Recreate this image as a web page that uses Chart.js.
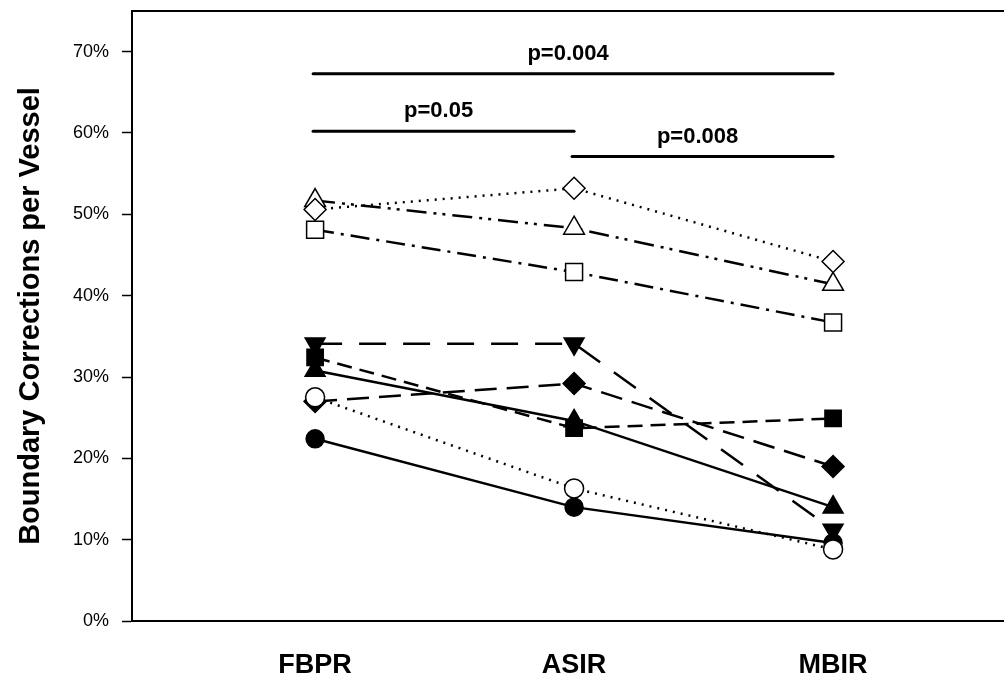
<!DOCTYPE html>
<html lang="en">
<head>
    <meta charset="UTF-8">
    <title>Boundary Corrections per Vessel</title>
    <script src="https://cdn.jsdelivr.net/npm/chart.js"></script>
    <style>
        body {
            margin: 0;
            background: white;
        }
        .chart-wrap {
            width: 1004px;
            height: 675px;
            position: relative;
        }
    </style>
</head>
<body>
    <div class="chart-wrap">
        <canvas id="chart"></canvas>
    </div>

    <script>
        // categories on the x axis
        const methods = ['FBPR', 'ASIR', 'MBIR'];

        // one series per case, values in %
        const openCircle    = [27.5, 16.3, 8.8];
        const filledCircle  = [22.4, 14.0, 9.6];
        const filledTri     = [30.8, 24.6, 14.0];
        const openTri       = [51.7, 48.3, 41.4];
        const filledTriDown = [34.1, 34.1, 11.2];
        const filledSquare  = [32.4, 23.7, 24.9];
        const openSquare    = [48.1, 42.9, 36.7];
        const filledDiamond = [27.0, 29.2, 19.0];
        const openDiamond   = [50.6, 53.2, 44.2];

        const yTicks = [0, 10, 20, 30, 40, 50, 60, 70];

        // significance brackets: from / to category index, height in %, label
        const bracketFrom  = [0, 0, 1];
        const bracketTo    = [2, 1, 2];
        const bracketLevel = [67.3, 60.2, 57.1];
        const bracketText  = ['p=0.004', 'p=0.05', 'p=0.008'];

        const FONT = "'Liberation Sans', Arial, sans-serif";

        function series(label, values, style) {
            return Object.assign({
                label: label,
                data: values.map((v, i) => ({ x: i + 1, y: v })),
                borderColor: '#000',
                borderWidth: 2.5,
                pointBorderColor: '#000',
                pointBorderWidth: 1.5,
                pointBackgroundColor: '#000',
                tension: 0
            }, style);
        }

        // first dataset is drawn on top
        const datasets = [
            series('open circle', openCircle, { borderDash: [2, 6], pointStyle: 'circle', pointRadius: 9.5, pointBackgroundColor: '#fff' }),
            series('open diamond', openDiamond, { borderDash: [2, 6], pointStyle: 'rectRot', pointRadius: 11, pointBackgroundColor: '#fff' }),
            series('open triangle', openTri, { borderDash: [20, 7, 3, 6, 3, 7], pointStyle: 'triangle', pointRadius: 12, pointBackgroundColor: '#fff' }),
            series('open square', openSquare, { borderDash: [19, 7, 3, 7], pointStyle: 'rect', pointRadius: 12, pointBackgroundColor: '#fff' }),
            series('filled circle', filledCircle, { pointStyle: 'circle', pointRadius: 9 }),
            series('filled triangle', filledTri, { pointStyle: 'triangle', pointRadius: 11.5 }),
            series('filled triangle down', filledTriDown, { borderDash: [27, 17], pointStyle: 'triangle', pointRotation: 180, pointRadius: 11.5 }),
            series('filled square', filledSquare, { borderDash: [15, 8], pointStyle: 'rect', pointRadius: 11.5 }),
            series('filled diamond', filledDiamond, { borderDash: [22, 10], pointStyle: 'rectRot', pointRadius: 11 })
        ];

        // top frame line and p-value brackets
        const bracketPlugin = {
            id: 'brackets',
            afterDraw(chart) {
                const ctx = chart.ctx;
                const area = chart.chartArea;
                const xs = chart.scales.x;
                const ys = chart.scales.y;
                ctx.save();
                ctx.strokeStyle = '#000';
                ctx.lineWidth = 2;
                ctx.beginPath();
                ctx.moveTo(area.left, area.top);
                ctx.lineTo(chart.width, area.top);
                ctx.stroke();

                ctx.lineWidth = 3;
                ctx.lineCap = 'round';
                ctx.fillStyle = '#000';
                ctx.font = 'bold 22px ' + FONT;
                ctx.textAlign = 'center';
                ctx.textBaseline = 'middle';
                for (let i = 0; i < bracketText.length; i++) {
                    const x1 = xs.getPixelForValue(bracketFrom[i] + 1);
                    const x2 = xs.getPixelForValue(bracketTo[i] + 1);
                    const y = ys.getPixelForValue(bracketLevel[i]);
                    ctx.beginPath();
                    ctx.moveTo(x1 - 2, y);
                    ctx.lineTo(x2, y);
                    ctx.stroke();
                    ctx.fillText(bracketText[i], (x1 + x2) / 2 - 6, y - 20);
                }
                ctx.restore();
            }
        };

        new Chart(document.getElementById('chart'), {
            type: 'line',
            data: { datasets: datasets },
            options: {
                responsive: true,
                maintainAspectRatio: false,
                animation: false,
                layout: { autoPadding: false, padding: { top: 11, right: 0, bottom: 0, left: 0 } },
                plugins: {
                    legend: { display: false },
                    tooltip: { enabled: false }
                },
                scales: {
                    x: {
                        type: 'linear',
                        min: 0.293,
                        max: 3.66,
                        afterBuildTicks: (scale) => {
                            scale.ticks = methods.map((m, i) => ({ value: i + 1 }));
                        },
                        afterFit: (scale) => {
                            scale.height = 54;
                            scale.paddingLeft = 0;
                            scale.paddingRight = 0;
                        },
                        ticks: {
                            callback: (v) => methods[v - 1],
                            color: '#000',
                            padding: 28,
                            maxRotation: 0,
                            font: { family: FONT, size: 27, weight: 'bold' }
                        },
                        grid: { display: true, drawOnChartArea: false, drawTicks: false },
                        border: { display: true, color: '#000', width: 2 }
                    },
                    y: {
                        min: 0,
                        max: 75,
                        afterBuildTicks: (scale) => {
                            scale.ticks = yTicks.map(v => ({ value: v }));
                        },
                        afterFit: (scale) => {
                            scale.width = 132;
                            scale.paddingTop = 0;
                            scale.paddingBottom = 0;
                        },
                        ticks: {
                            callback: (v) => v + '%',
                            color: '#000',
                            padding: 13,
                            font: { family: FONT, size: 18 }
                        },
                        grid: {
                            drawOnChartArea: false,
                            drawTicks: true,
                            tickLength: 10,
                            tickColor: '#000',
                            tickWidth: 1.5
                        },
                        border: { display: true, color: '#000', width: 2 },
                        title: {
                            display: true,
                            text: 'Boundary Corrections per Vessel',
                            color: '#000',
                            padding: { top: 14, bottom: 0 },
                            font: { family: FONT, size: 29, weight: 'bold' }
                        }
                    }
                }
            },
            plugins: [bracketPlugin]
        });
    </script>
</body>
</html>
